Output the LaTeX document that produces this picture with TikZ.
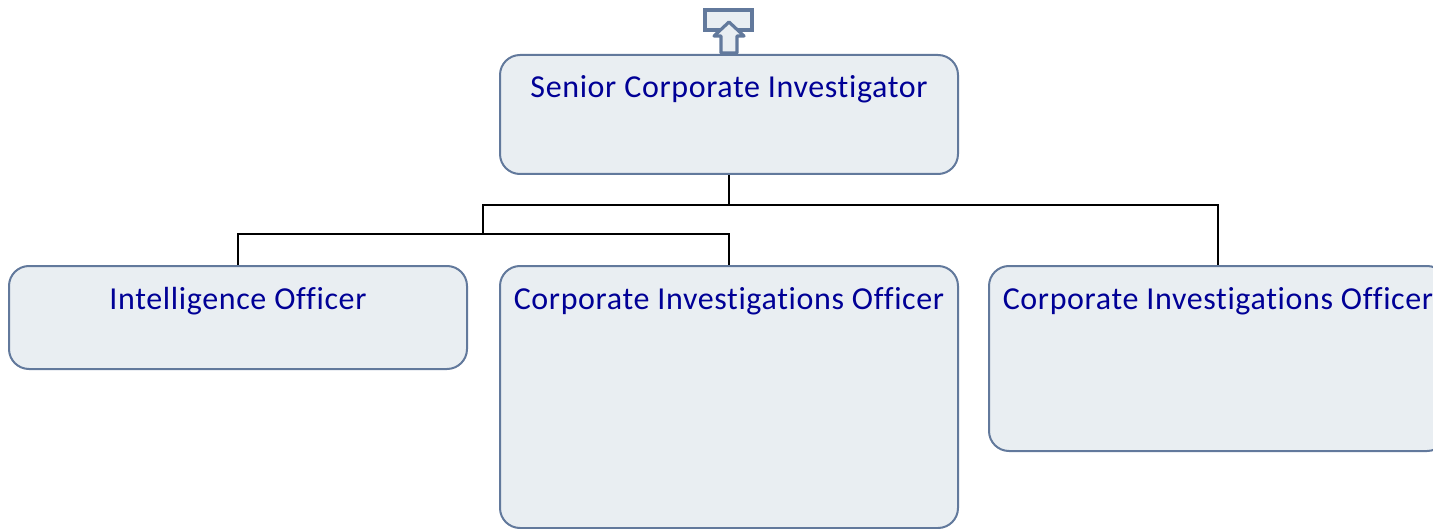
\documentclass[tikz,border=0pt]{standalone}
\usepackage{fontspec}
\setmainfont{Carlito}[Ligatures=CommonOff, LetterSpace=2]
\usepackage{tikz}

\definecolor{boxfill}{RGB}{233,238,242}
\definecolor{boxline}{RGB}{98,121,156}
\definecolor{boxtext}{RGB}{0,0,150}

\tikzset{
  post/.style={draw=boxline, line width=1pt, fill=boxfill, rounded corners=10pt,
    inner xsep=0pt, inner ysep=0pt, text=boxtext, font=\fontsize{16}{19}\selectfont,
    minimum width=229pt, text height=21.5pt},
  link/.style={draw=black, line width=1pt}
}

\begin{document}
\begin{tikzpicture}[x=0.5pt,y=0.5pt,yscale=-1,xscale=1]
\useasboundingbox (0,0) rectangle (1433,529);

%Shape: Up arrow icon
\draw [boxline, fill=boxfill, line width=1.6pt] (705,10) rectangle (752,30) ;
\draw [boxline, fill=boxfill, line width=1.6pt, line join=round] (729,22) -- (744,36) -- (737,36) -- (737,53) -- (721,53) -- (721,36) -- (714,36) -- cycle ;

% Boxes
\node [post, anchor=north, text depth=38pt] (sci) at (729,54) {Senior Corporate Investigator};
\node [post, anchor=north, text depth=30pt] (io) at (238,265) {Intelligence Officer};
\node [post, anchor=north, text depth=109.5pt] (cio) at (729,265) {Corporate Investigations Officer};
\node [post, anchor=north, text depth=71pt] (cio2) at (1218,265) {Corporate Investigations Officer};

% Connectors
\draw [link] (sci.south) -- ++(0,30) coordinate (split) ;
\draw [link] (split) -| (cio2.north) ;
\coordinate (sub) at (483,234) ;
\draw [link] (split) -| (sub) ;
\draw [link] (io.north) |- (sub) -| (cio.north) ;

\end{tikzpicture}
\end{document}
